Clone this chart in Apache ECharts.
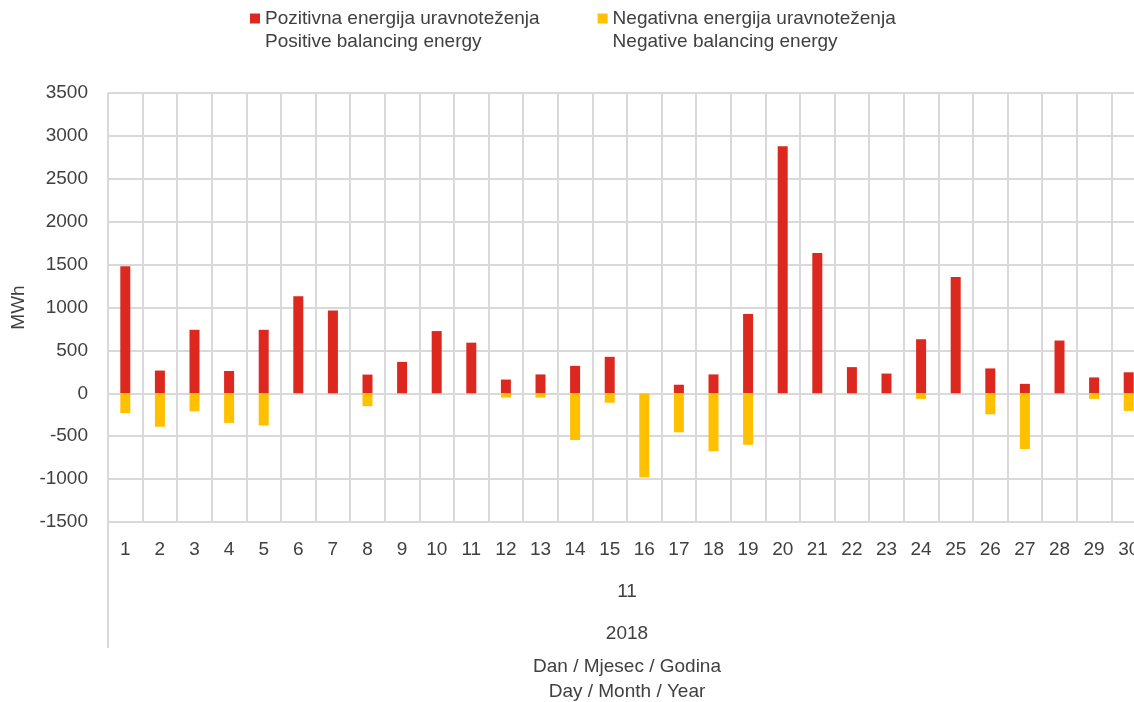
<!DOCTYPE html>
<html>
<head>
<meta charset="utf-8">
<title>Balancing energy</title>
<script src="https://cdn.jsdelivr.net/npm/echarts@6/dist/echarts.min.js"></script>
<style>
  html, body { margin: 0; padding: 0; background: #fff; }
  #chart { width: 1134px; height: 702px; }
</style>
</head>
<body>
<div id="chart"></div>
<script>
// days of the month (category labels)
const days = ['1', '2', '3', '4', '5', '6', '7', '8', '9', '10',
  '11', '12', '13', '14', '15', '16', '17', '18', '19', '20',
  '21', '22', '23', '24', '25', '26', '27', '28', '29', '30'];
const months = ['11'];
const years = ['2018'];

const positiveName = 'Pozitivna energija uravnoteženja\nPositive balancing energy';
const negativeName = 'Negativna energija uravnoteženja\nNegative balancing energy';

// MWh
const positive = [1480, 265, 740, 260, 740, 1130, 965, 218, 366, 725,
  590, 160, 220, 320, 425, 0, 100, 220, 925, 2880,
  1635, 305, 230, 630, 1355, 290, 110, 615, 185, 245];
const negative = [-230, -390, -210, -345, -375, 0, 0, -150, 0, 0,
  0, -50, -50, -545, -110, -980, -455, -675, -600, 0,
  0, 0, 0, -65, 0, -245, -650, 0, -65, -205];

const FONT = '"Liberation Sans", Arial, sans-serif';
const TEXT = '#404040';
const GRID = '#d9d9d9';

const chart = echarts.init(document.getElementById('chart'));
chart.setOption({
  animation: false,
  textStyle: { fontFamily: FONT, color: TEXT },
  legend: {
    left: 250,
    top: -16,
    padding: 0,
    itemWidth: 10,
    itemHeight: 10,
    itemGap: 58,
    icon: 'rect',
    // leading blank line keeps the first line level with the square
    formatter: name => '\n' + name,
    textStyle: {
      fontFamily: FONT,
      fontSize: 19,
      color: TEXT,
      lineHeight: 23
    },
    data: [positiveName, negativeName]
  },
  grid: { left: 108, top: 93, right: -12, bottom: 180, outerBoundsMode: 'none' },
  xAxis: [
    {
      type: 'category',
      data: days,
      axisLine: { show: false, onZero: false },
      axisTick: { show: false },
      axisLabel: { margin: 18, fontSize: 19, color: TEXT, fontFamily: FONT },
      splitLine: { show: true, lineStyle: { color: GRID, width: 2 } }
    },
    {
      type: 'category',
      data: months,
      position: 'bottom',
      axisLine: { show: false, onZero: false },
      axisTick: { show: true, length: 126, lineStyle: { color: GRID, width: 2 } },
      axisLabel: { margin: 60, fontSize: 19, color: TEXT, fontFamily: FONT },
      splitLine: { show: false }
    },
    {
      type: 'category',
      data: years,
      position: 'bottom',
      axisLine: { show: false, onZero: false },
      axisTick: { show: false },
      axisLabel: { margin: 102, fontSize: 19, color: TEXT, fontFamily: FONT },
      splitLine: { show: false },
      name: 'Dan / Mjesec / Godina\nDay / Month / Year',
      nameLocation: 'middle',
      nameGap: 132,
      nameTextStyle: { fontSize: 19, color: TEXT, lineHeight: 25, fontFamily: FONT }
    }
  ],
  yAxis: {
    type: 'value',
    min: -1500,
    max: 3500,
    interval: 500,
    name: 'MWh',
    nameLocation: 'middle',
    nameRotate: 90,
    nameGap: 80,
    nameTextStyle: { fontSize: 19, color: TEXT, fontFamily: FONT },
    axisLine: { show: false },
    axisTick: { show: false },
    axisLabel: {
      margin: 20, fontSize: 19, color: TEXT, fontFamily: FONT,
      formatter: v => String(v)
    },
    splitLine: { show: true, lineStyle: { color: GRID, width: 2 } }
  },
  series: [
    {
      name: positiveName,
      type: 'bar',
      data: positive,
      barWidth: 10,
      barGap: '-100%',
      itemStyle: { color: '#DC281E' }
    },
    {
      name: negativeName,
      type: 'bar',
      data: negative,
      barWidth: 10,
      barGap: '-100%',
      itemStyle: { color: '#FFC000' }
    }
  ]
});
</script>
</body>
</html>
